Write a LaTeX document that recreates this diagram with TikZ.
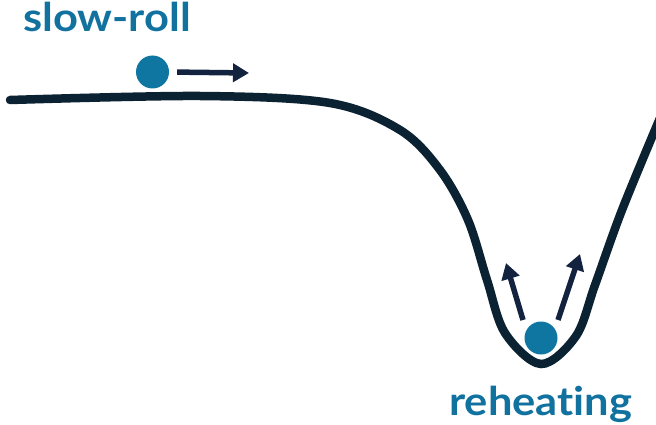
\documentclass[tikz,border=0pt]{standalone}
\usepackage{fontspec}
\setmainfont{Lato}[FakeStretch=1.1, Ligatures=NoCommon]
\usetikzlibrary{arrows.meta}
\definecolor{curvecol}{HTML}{0B2233}
\definecolor{ballcol}{HTML}{0E76A0}
\definecolor{arrowcol}{HTML}{13223F}
\definecolor{labelcol}{HTML}{1172A0}
\tikzset{
  ball/.style={circle, fill=ballcol, minimum size=33pt, inner sep=0pt},
  kick/.style={draw=arrowcol, line width=5.5pt,
    -{Triangle[length=16pt,width=18pt]}},
  potential/.style={draw=curvecol, line width=8.5pt, line cap=round},
  phase/.style={text=labelcol, font=\bfseries\fontsize{39.5}{44}\selectfont,
    inner sep=0pt, anchor=base west}
}
\begin{document}
\begin{tikzpicture}[x=1pt, y=-1pt]
  \useasboundingbox (0,0) rectangle (656,425);
  % inflaton potential: plateau, then a well
  \draw[potential] plot[smooth, tension=0.55] coordinates {
    (10,100) (200,96) (330,103) (400,130) (440,170) (468,220)
    (487,280) (505,333) (541,364) (576,336) (595,285) (622,210) (660,118)};
  % slow-roll stage
  \node[phase] (sr) at (23,32) {slow-roll};
  \node[ball] (b1) at (152.5,72) {};
  \coordinate (h1) at (249,73);
  \draw[kick, shorten <=8pt] (b1.east) -- (h1);
  % reheating stage
  \node[phase] (rh) at (449,415) {reheating};
  \node[ball] (b2) at (541,338) {};
  \coordinate (t2) at (523,320);
  \coordinate (h2) at (506,263);
  \coordinate (t3) at (558,320);
  \coordinate (h3) at (580,254);
  \draw[kick] (t2) -- (h2);
  \draw[kick] (t3) -- (h3);
\end{tikzpicture}
\end{document}
